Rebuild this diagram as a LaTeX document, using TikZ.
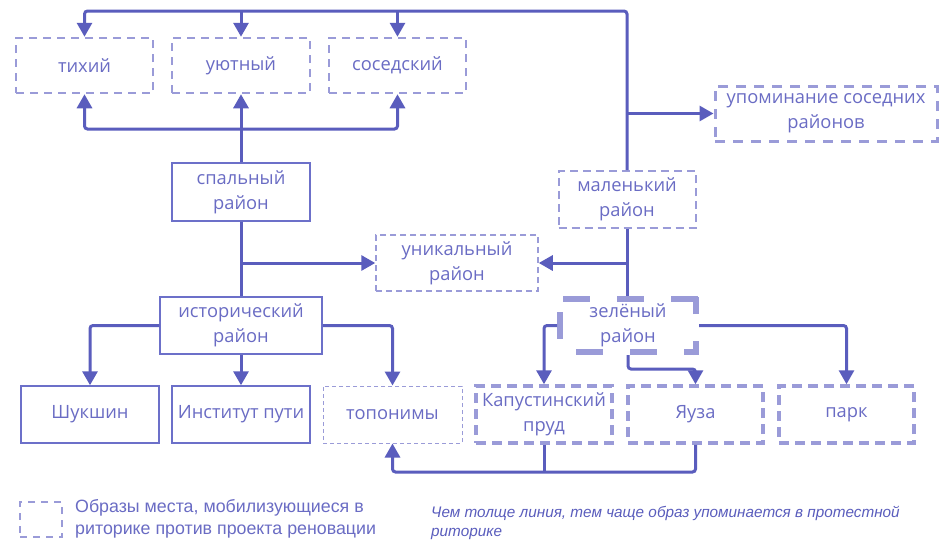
\documentclass[tikz,border=0pt]{standalone}
\usepackage{fontspec}
\setmainfont{Open Sans}
\newfontfamily\legfont{Liberation Sans}
\usetikzlibrary{arrows.meta}
\definecolor{conncol}{HTML}{5A5DBD}
\definecolor{txtcol}{HTML}{6A6CC4}
\definecolor{dashcol}{HTML}{9A9BD8}
\definecolor{solidcol}{HTML}{6C70C9}
\tikzset{
  box/.style={rectangle, align=center, inner sep=0pt, text=txtcol,
    font=\fontsize{18.3}{25}\selectfont, minimum height=56pt},
  solidbox/.style={box, draw=solidcol, line width=1.5pt},
  dbox/.style={box, draw=dashcol, line width=2.5pt, dash pattern=on 8pt off 6pt},
  thickedge/.style={draw=dashcol, line width=6.5pt, dash pattern=on 27pt off 27pt},
  conn/.style={draw=conncol, line width=3pt, rounded corners=3pt},
  arr/.style={conn, -{Triangle[length=14pt,width=15pt]}},
  darr/.style={conn, {Triangle[length=14pt,width=15pt]}-{Triangle[length=14pt,width=15pt]}}
}
\begin{document}
\begin{tikzpicture}[x=1pt,y=-1pt]
\fill[white] (0,0) rectangle (939,542);
\useasboundingbox (0,0) rectangle (939,542);
% top row
\node[dbox, minimum width=137pt, minimum height=55pt] (tikhiy) at (84.5,65.5) {тихий};
\node[dbox, minimum width=138pt, minimum height=55pt] (uyutny) at (241,65.5) {уютный};
\node[dbox, minimum width=137pt, minimum height=55pt] (sosed) at (397.5,65.5) {соседский};
\node[box, draw=dashcol, line width=3pt, dash pattern=on 10pt off 8pt,
  minimum width=222pt, minimum height=55pt] (upomin) at (826,113.5) {упоминание соседних\\районов};
% middle
\node[solidbox, minimum width=138pt, minimum height=58pt] (spalny) at (241,192) {спальный\\район};
\node[box, draw=dashcol, line width=2pt, dash pattern=on 8pt off 5pt,
  minimum width=137pt, minimum height=57pt] (malen) at (627,199.5) {маленький\\район};
\node[box, draw=dashcol, line width=1.5pt, dash pattern=on 6pt off 4pt,
  minimum width=162pt, minimum height=56pt] (unik) at (457,263) {уникальный\\район};
\node[solidbox, minimum width=162pt, minimum height=57pt] (istor) at (241,325.5) {исторический\\район};
\node[box, minimum width=136pt, minimum height=53pt, outer sep=3pt] (zelen) at (628,325.5) {зелёный\\район};
\draw[thickedge] (563,299) -- (699,299);
\draw[thickedge, dash phase=13pt] (696,355) -- (696,297);
\draw[thickedge, dash phase=35pt] (557,352) -- (696,352);
\draw[thickedge, dash phase=41pt] (560,299) -- (560,352);
% bottom row
\node[solidbox, minimum width=138pt, minimum height=57pt] (shukshin) at (90,414.5) {Шукшин};
\node[solidbox, minimum width=138pt, minimum height=57pt] (institut) at (241,414.5) {Институт пути};
\node[box, draw=dashcol, line width=1pt, dash pattern=on 4pt off 3pt,
  minimum width=139pt, minimum height=57pt] (toponim) at (392.5,414.5) {топонимы};
\node[box, draw=dashcol, line width=3.5pt, dash pattern=on 10pt off 6pt,
  minimum width=136pt, minimum height=57pt] (kapust) at (544,414.5) {Капустинский\\пруд};
\node[box, draw=dashcol, line width=3.5pt, dash pattern=on 10pt off 6pt,
  minimum width=135pt, minimum height=57pt] (yauza) at (695.5,414.5) {Яуза};
\node[box, draw=dashcol, line width=3.5pt, dash pattern=on 10pt off 6pt,
  minimum width=135pt, minimum height=57pt] (park) at (846.5,414.5) {парк};
% helper coordinates
\coordinate (top) at (0,11);
\coordinate (mid) at (0,129);
\coordinate (low) at (0,369);
\coordinate (bot) at (0,472);
% connectors: top
\draw[arr] (malen.north) -- (malen.north |- top) -- (top -| tikhiy.north) -- (tikhiy.north);
\draw[arr] (uyutny.north |- top) -- (uyutny.north);
\draw[arr] (sosed.north |- top) -- (sosed.north);
\draw[arr] (malen.north |- upomin.west) -- (upomin.west);
% spalny up
\draw[arr] (spalny.north) -- (uyutny.south);
\draw[darr] (tikhiy.south) -- (tikhiy.south |- mid) -- (mid -| sosed.south) -- (sosed.south);
% spalny down
\draw[conn] (spalny.south) -- (istor.north);
\draw[arr] (spalny.south |- unik.west) -- (unik.west);
% malen down
\draw[conn] (malen.south) -- (malen.south |- zelen.north);
\draw[arr] (malen.south |- unik.east) -- (unik.east);
% istor
\draw[arr] (istor.west) -| (shukshin.north);
\draw[arr] (istor.south) -- (institut.north);
\draw[arr] (istor.east) -| (toponim.north);
% zelen
\draw[arr] (zelen.west) -| (kapust.north);
\draw[arr] (zelen.east) -| (park.north);
\draw[arr] (zelen.south) -- (zelen.south |- low) -- (low -| yauza.north) -- (yauza.north);
% bottom
\draw[arr] (yauza.south) -- (yauza.south |- bot) -- (bot -| toponim.south) -- (toponim.south);
\draw[conn] (kapust.south) -- (kapust.south |- bot);
% legend
\node[draw=dashcol, line width=2pt, dash pattern=on 7pt off 6pt, minimum width=42pt,
  minimum height=35pt, inner sep=0pt] (legbox) at (41,519.5) {};
\node[anchor=west, align=left, inner sep=0pt, text=txtcol,
  font=\legfont\fontsize{17.8}{22}\selectfont] (legtext) at (75,519) {Образы места, мобилизующиеся в\\риторике против проекта реновации};
\node[anchor=west, align=left, inner sep=0pt, text=conncol,
  font=\legfont\itshape\fontsize{15.3}{19}\selectfont] (note) at (431,523) {Чем толще линия, тем чаще образ упоминается в протестной\\риторике};
\end{tikzpicture}
\end{document}
